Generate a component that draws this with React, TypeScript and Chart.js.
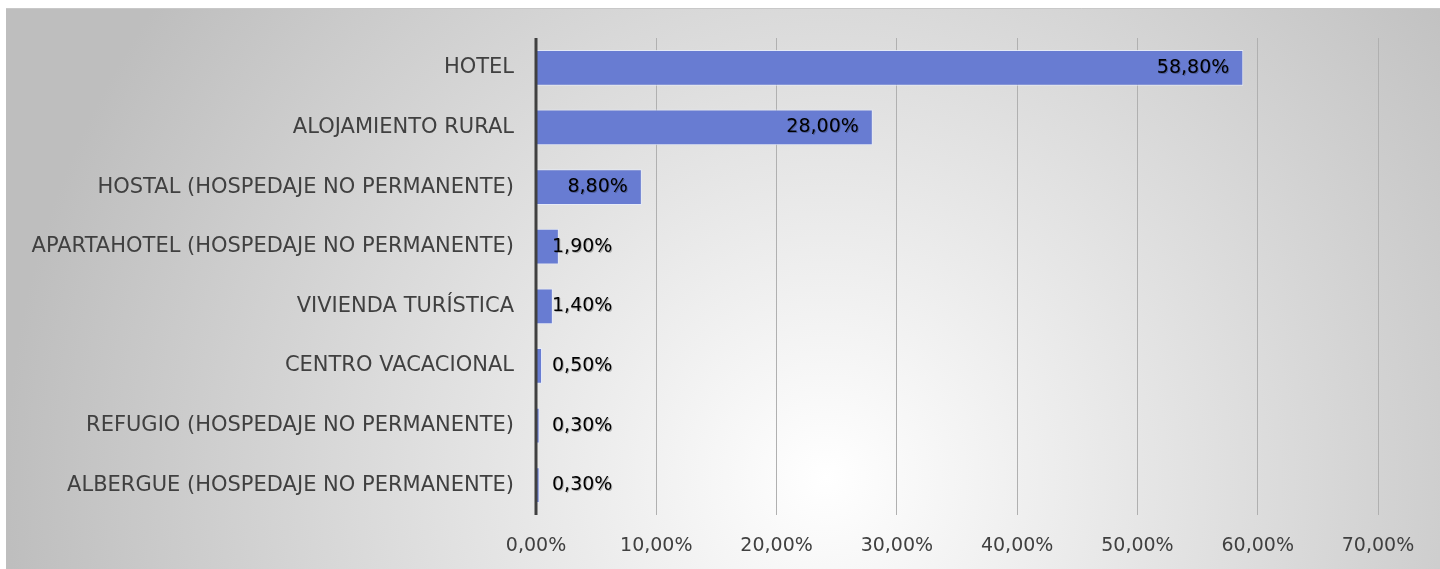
import React, { useEffect, useRef } from "react";
import { Chart, registerables } from "chart.js";

Chart.register(...registerables);

const categories = [
  "HOTEL",
  "ALOJAMIENTO RURAL",
  "HOSTAL (HOSPEDAJE NO PERMANENTE)",
  "APARTAHOTEL (HOSPEDAJE NO PERMANENTE)",
  "VIVIENDA TURÍSTICA",
  "CENTRO VACACIONAL",
  "REFUGIO (HOSPEDAJE NO PERMANENTE)",
  "ALBERGUE (HOSPEDAJE NO PERMANENTE)",
];
const values = [58.8, 28.0, 8.8, 1.9, 1.4, 0.5, 0.3, 0.3];
const tickValues = [0, 10, 20, 30, 40, 50, 60, 70];

const FONT = "'DejaVu Sans', sans-serif";
const fmt = (v: number) => v.toFixed(2).replace(".", ",") + "%";

const bgPlugin = {
  id: "bg",
  beforeDraw(chart: any) {
    const { ctx, width, height } = chart;
    ctx.save();
    const g = ctx.createRadialGradient(820, 470, 0, 820, 470, 820);
    g.addColorStop(0, "#ffffff");
    g.addColorStop(1, "#bebebe");
    ctx.fillStyle = g;
    ctx.fillRect(0, 0, width, height);
    ctx.strokeStyle = "#c8c8c8";
    ctx.lineWidth = 1;
    ctx.beginPath();
    ctx.moveTo(0, 0.5);
    ctx.lineTo(width, 0.5);
    ctx.stroke();
    ctx.restore();
  },
};

const axisPlugin = {
  id: "axisLine",
  afterDatasetsDraw(chart: any) {
    const { ctx, chartArea, scales } = chart;
    const x0 = scales.x.getPixelForValue(0);
    ctx.save();
    ctx.strokeStyle = "#404040";
    ctx.lineWidth = 3;
    ctx.beginPath();
    ctx.moveTo(x0, chartArea.top);
    ctx.lineTo(x0, chartArea.bottom);
    ctx.stroke();
    const meta = chart.getDatasetMeta(0);
    ctx.font = `19px ${FONT}`;
    ctx.textBaseline = "middle";
    meta.data.forEach((bar: any, i: number) => {
      const text = fmt(values[i]);
      const w = ctx.measureText(text).width;
      let right = bar.x - 14;
      if (right - w < x0 + 16) right = x0 + 16 + w;
      ctx.textAlign = "right";
      ctx.fillStyle = "rgba(0,0,0,0.25)";
      ctx.fillText(text, right + 1, bar.y + 1);
      ctx.fillStyle = "#000000";
      ctx.fillText(text, right, bar.y);
    });
    ctx.restore();
  },
};

export default function App() {
  const ref = useRef<HTMLCanvasElement>(null);
  useEffect(() => {
    if (!ref.current) return;
    const chart = new Chart(ref.current, {
      type: "bar",
      data: {
        labels: categories,
        datasets: [
          {
            data: values,
            backgroundColor: "rgb(104,124,210)",
            borderColor: "rgba(230,235,250,0.9)",
            borderWidth: 1,
            categoryPercentage: 0.6,
            barPercentage: 1,
          },
        ],
      },
      options: {
        indexAxis: "y",
        animation: false,
        responsive: true,
        maintainAspectRatio: false,
        layout: { padding: { top: 30, right: 62, left: 0, bottom: 0 } },
        plugins: { legend: { display: false }, tooltip: { enabled: false } },
        scales: {
          x: {
            min: 0,
            max: 70,
            afterBuildTicks(axis: any) {
              axis.ticks = tickValues.map((v) => ({ value: v }));
            },
            grid: { color: "#b0b0b0", lineWidth: 1, drawTicks: false },
            border: { display: false },
            ticks: {
              padding: 20,
              color: "#404040",
              font: { family: FONT, size: 19 },
              callback: (v: any) => fmt(Number(v)),
            },
            afterFit(axis: any) {
              axis.height = 54;
              axis.paddingLeft = 0;
              axis.paddingRight = 0;
            },
          },
          y: {
            grid: { display: false, drawTicks: false },
            border: { display: false },
            ticks: {
              padding: 22,
              color: "#404040",
              font: { family: FONT, size: 21 },
            },
            afterFit(axis: any) {
              axis.width = 530;
              axis.paddingTop = 0;
              axis.paddingBottom = 0;
            },
          },
        },
      },
      plugins: [bgPlugin, axisPlugin],
    });
    return () => chart.destroy();
  }, []);
  return (
    <div style={{ position: "absolute", left: 6, top: 8, width: 1434, height: 561 }}>
      <canvas ref={ref} />
    </div>
  );
}
